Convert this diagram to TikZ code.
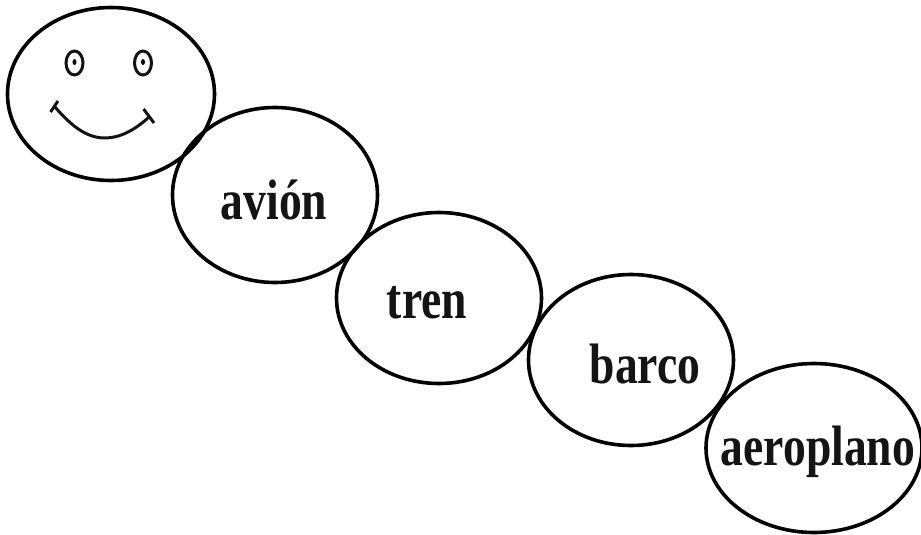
\documentclass[tikz,border=0pt]{standalone}
\usepackage{fontspec}
\setmainfont{Liberation Serif}
\usetikzlibrary{shapes.geometric}
\newcommand{\narrowword}[1]{\scalebox{.8}[1]{#1}}
\tikzset{
  blob/.style={draw=black,line width=3.6pt,ellipse,inner sep=0pt},
  word/.style={font=\fontsize{57}{57}\selectfont\bfseries,inner sep=0pt,anchor=base,text=black!92},
  facepart/.style={draw=black!92,line width=3pt}
}
\begin{document}
\begin{tikzpicture}[x=1pt,y=-1pt]
\useasboundingbox (0,0) rectangle (921,535);
\node[blob,minimum width=207pt,minimum height=173pt] (face) at (111,94) {};
\node[blob,minimum width=205pt,minimum height=175pt] (a) at (275,195) {};
\node[blob,minimum width=205pt,minimum height=171pt] (t) at (439,298) {};
\node[blob,minimum width=205pt,minimum height=171pt] (b) at (631,360) {};
\node[blob,minimum width=216pt,minimum height=169pt] (p) at (814,448) {};
\node[word] at (274,219) {\narrowword{avión}};
\node[word] at (427,318) {\narrowword{tren}};
\node[word] at (645,383) {\narrowword{barco}};
\node[word] at (818,465) {\narrowword{aeroplano}};
\draw[facepart] (74.5,63) ellipse [x radius=8.5pt,y radius=12pt];
\fill (74.5,62) ellipse [x radius=2pt,y radius=3pt];
\draw[facepart] (143,63) ellipse [x radius=8.5pt,y radius=12pt];
\fill (143,62) ellipse [x radius=2pt,y radius=3pt];
\draw[facepart] (50.5,112) -- (58,101);
\draw[facepart] (143.5,109) -- (154,123);
\draw[facepart] (55,107) .. controls (73,128) and (88,138) .. (105,138) .. controls (120,138) and (135,130) .. (149,117);
\end{tikzpicture}
\end{document}
